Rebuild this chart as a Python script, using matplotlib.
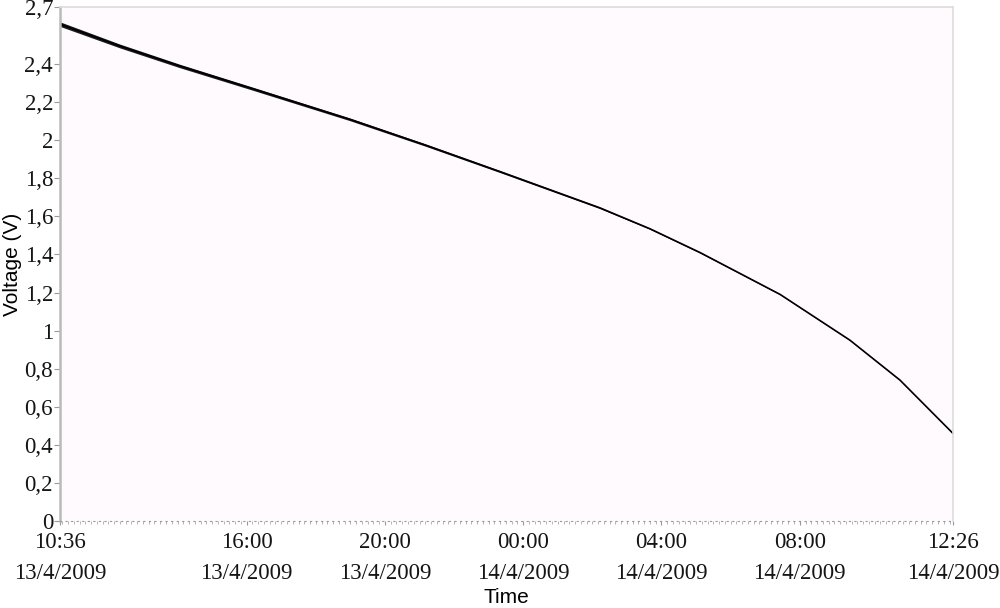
import matplotlib
matplotlib.use("Agg")
import matplotlib.pyplot as plt
import matplotlib.dates as mdates
import pandas as pd
import numpy as np

# 讀圖得到的量測點 (時間, 電壓)
times = ["2009-04-13 10:36", "2009-04-13 12:20", "2009-04-13 14:04",
         "2009-04-13 16:06", "2009-04-13 18:59", "2009-04-13 21:10",
         "2009-04-13 23:20", "2009-04-14 02:13", "2009-04-14 03:40",
         "2009-04-14 05:07", "2009-04-14 07:26", "2009-04-14 09:27",
         "2009-04-14 10:54", "2009-04-14 12:26"]
voltage = [2.61, 2.495, 2.39, 2.275, 2.11, 1.975, 1.835, 1.645, 1.535,
           1.41, 1.19, 0.95, 0.74, 0.46]
# 曲線雜訊寬度 (V), 前段較粗
noise = [0.012, 0.010, 0.009, 0.008, 0.007, 0.006, 0.005, 0.004, 0.003,
         0.003, 0.002, 0.002, 0.002, 0.002]

tick_times = ["2009-04-13 10:36", "2009-04-13 16:00", "2009-04-13 20:00",
              "2009-04-14 00:00", "2009-04-14 04:00", "2009-04-14 08:00",
              "2009-04-14 12:26"]
tick_labels = ["10:36\n13/4/2009", "16:00\n13/4/2009", "20:00\n13/4/2009",
               "00:00\n14/4/2009", "04:00\n14/4/2009", "08:00\n14/4/2009",
               "12:26\n14/4/2009"]
y_ticks = [0, 0.2, 0.4, 0.6, 0.8, 1.0, 1.2, 1.4, 1.6, 1.8, 2.0, 2.2, 2.4, 2.7]
y_labels = ["0", "0,2", "0,4", "0,6", "0,8", "1", "1,2", "1,4", "1,6",
            "1,8", "2", "2,2", "2,4", "2,7"]

t = pd.to_datetime(times)
v = np.array(voltage)
n = np.array(noise)

fig = plt.figure(figsize=(10, 6.08), dpi=100)
ax = fig.add_axes([0.060, 0.1431, 0.893, 0.8454])
ax.set_facecolor("#fefafd")

# 雜訊帶 + 主曲線
ax.fill_between(t, v - n, v + n, color="#1a1a1a", linewidth=0)
ax.plot(t, v, color="black", linewidth=1.2, solid_joinstyle="round")

ax.set_xlim(pd.Timestamp(times[0]), pd.Timestamp(times[-1]))
ax.set_ylim(0, 2.7)

ax.set_xticks(pd.to_datetime(tick_times))
ax.set_xticklabels(tick_labels, family="Liberation Serif", fontsize=16.5,
                   linespacing=1.64, color="#151515")
ax.xaxis.set_minor_locator(mdates.MinuteLocator(byminute=range(0, 60, 10)))
ax.set_yticks(y_ticks)
ax.set_yticklabels(y_labels, family="Liberation Serif", fontsize=16.5,
                   color="#151515")

ax.tick_params(axis="x", which="major", length=3, color="#999999", pad=5)
ax.tick_params(axis="x", which="minor", length=2, color="#aaaaaa")
ax.tick_params(axis="y", length=4, color="#999999", pad=1)

for s in ["top", "right"]:
    ax.spines[s].set_color("#dddddd")
    ax.spines[s].set_linewidth(1.2)
ax.spines["left"].set_color("#bbbbbb")
ax.spines["left"].set_linewidth(1.8)
ax.spines["bottom"].set_color("#999999")
ax.spines["bottom"].set_linestyle((0, (1, 4)))

ax.set_xlabel("Time", family="Liberation Sans", fontsize=15, labelpad=2.5)
ax.set_ylabel("Voltage (V)", family="Liberation Sans", fontsize=15,
              labelpad=2)

fig.savefig("out.png", dpi=100)
